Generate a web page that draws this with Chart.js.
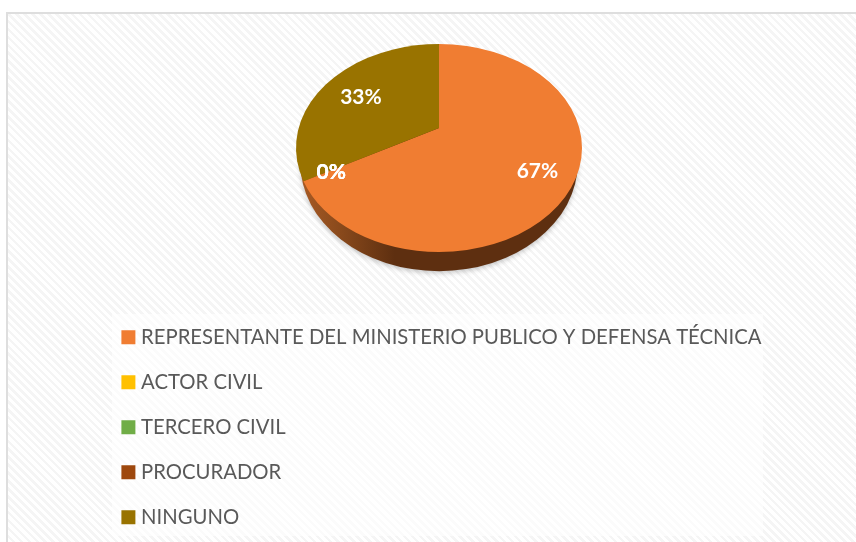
<!DOCTYPE html>
<html><head><meta charset="utf-8">
<script src="https://cdn.jsdelivr.net/npm/chart.js@4/dist/chart.umd.js"></script>
<style>
html,body{margin:0;padding:0;background:#fff;width:856px;height:542px;overflow:hidden}
#frame{position:absolute;left:6px;top:12px;width:850px;height:530px;box-sizing:border-box;border-left:2px solid #dedede;border-top:2px solid #dedede;
background:repeating-linear-gradient(45deg,#ffffff 0 3px,#f5f5f5 3px 5.6px)}
canvas{position:absolute;left:0;top:0}
</style></head><body>
<div id="frame"></div>
<canvas id="c" width="856" height="542"></canvas>
<script>
const categories=["REPRESENTANTE DEL MINISTERIO PUBLICO Y DEFENSA TÉCNICA","ACTOR CIVIL","TERCERO CIVIL","PROCURADOR","NINGUNO"];
const shareValues=[67,0,0,0,33];
const sliceColors=["#F07D32","#FFC000","#70AD47","#9E480E","#997300"];

const SQUASH=104/143, TILT=-0.192;
function project(a,t,r){ // a: canvas angle of the flat pie, t: fraction of radius
  const u=Math.cos(a)*t, v=Math.sin(a)*t, d=1+TILT*v;
  return {x:u*Math.sqrt(1-TILT*TILT)/d*r, y:(v+TILT)/d*r*SQUASH};
}
Chart.ArcElement.prototype.draw=function(ctx){
  if(this.endAngle-this.startAngle<=0) return;
  const r=this.outerRadius, ry=r*SQUASH;
  const ang=a=>{const p=project(a,1,r);return Math.atan2(p.y/ry,p.x/r);};
  const apex=project(0,0,r);
  ctx.save();
  ctx.fillStyle=this.options.backgroundColor;
  ctx.beginPath();
  ctx.moveTo(this.x+apex.x,this.y+apex.y);
  ctx.ellipse(this.x,this.y,r,ry,0,ang(this.startAngle),ang(this.endAngle));
  ctx.closePath();ctx.fill();
  ctx.restore();
};
const wall={id:'wall',beforeDatasetsDraw(chart){
  const a=chart.getDatasetMeta(0).data[0],ctx=chart.ctx,r=a.outerRadius;
  const cx=a.x,cy=a.y+15,rx=r*0.97,ry=r*SQUASH*1.04;
  const g=ctx.createLinearGradient(cx-rx,0,cx+rx,0);
  g.addColorStop(0,'#a85a24');g.addColorStop(0.14,'#8a4a1c');g.addColorStop(0.34,'#5e2f10');g.addColorStop(1,'#5e2f10');
  ctx.save();
  ctx.shadowColor='rgba(0,0,0,0.22)';ctx.shadowBlur=5;ctx.shadowOffsetY=2;
  ctx.fillStyle=g;ctx.beginPath();ctx.ellipse(cx,cy,rx,ry,0,0,Math.PI*2);ctx.fill();
  ctx.restore();
}};
const labelReach=[0.755,0.81,0.81,0.81,0.69];
const valueLabels={id:'valueLabels',afterDatasetsDraw(chart){
  const ctx=chart.ctx,data=chart.data.datasets[0].data,total=data.reduce((s,v)=>s+v,0);
  ctx.save();ctx.fillStyle='#fff';ctx.font='bold 21px Lato';ctx.textAlign='center';ctx.textBaseline='middle';
  chart.getDatasetMeta(0).data.forEach((a,i)=>{
    const p=project((a.startAngle+a.endAngle)/2,labelReach[i],a.outerRadius);
    ctx.fillText(Math.round(data[i]/total*100)+'%',a.x+p.x,a.y+p.y+2);
  });
  ctx.restore();
}};
const legendPanel={id:'legendPanel',
  beforeDraw(chart){const c=chart.ctx;c.save();c.fillStyle='rgba(255,255,255,0.62)';c.fillRect(112,314,651,222);c.restore();},
  afterLayout(chart){const l=chart.legend;l.left=101.2;l.top=302.35;l.right=900;l.bottom=640;}
};
new Chart(document.getElementById('c'),{
  type:'pie',
  data:{labels:categories,datasets:[{data:shareValues,backgroundColor:sliceColors,borderWidth:0,radius:143}]},
  plugins:[wall,valueLabels,legendPanel],
  options:{responsive:false,animation:false,
    layout:{padding:{left:22,bottom:246,top:0,right:0}},
    plugins:{tooltip:{enabled:false},
      legend:{position:'chartArea',align:'start',
        labels:{usePointStyle:true,pointStyle:'rect',boxWidth:5,boxHeight:14,padding:24.7,color:'#595959',font:{family:'Lato',size:20.3}}}}}
});
</script></body></html>
